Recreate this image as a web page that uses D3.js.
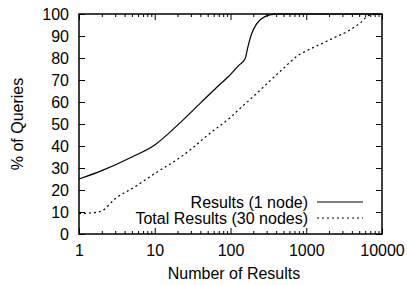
<!DOCTYPE html>
<html>
<head>
<meta charset="utf-8">
<script src="https://cdn.jsdelivr.net/npm/d3@7"></script>
<style>
  body { margin: 0; background: #fff; }
  text { font-family: "Liberation Sans", Arial, sans-serif; font-size: 16px; fill: #000; }
</style>
</head>
<body>
<svg id="chart" width="407" height="285"></svg>
<script>
// values
const resultsX = [1, 2, 5, 10, 20, 40, 65, 100, 130, 155, 171, 190, 221, 284, 385, 500, 10000];
const resultsY = [25, 28.8, 35, 40.5, 49.5, 59.5, 66.5, 72.5, 76.8, 79.5, 85.5, 91, 95.5, 98.8, 99.9, 100, 100];

const totalX = [1, 1.5, 2, 3, 5.5, 10, 20, 30, 50, 100, 133, 200, 472, 824, 1000, 2265, 3760, 5090, 6900, 10000];
const totalY = [9.3, 9.6, 10.5, 16, 21.5, 27.5, 34, 38.5, 45, 53, 57, 62.5, 74.5, 81.7, 83.2, 89, 92.7, 95.8, 99.5, 100];

const xMajor = [1, 10, 100, 1000, 10000];
const yMajor = [0, 10, 20, 30, 40, 50, 60, 70, 80, 90, 100];
const seriesNames = ["Results (1 node)", "Total Results (30 nodes)"];

const plotL = 79, plotR = 382, plotT = 14, plotB = 234;
const svg = d3.select("#chart");

const x = d3.scaleLog().domain([1, 10000]).range([plotL, plotR]);
const y = d3.scaleLinear().domain([0, 100]).range([plotB, plotT]);

// minor ticks 2..9 in each decade
const xMinor = [];
for (let d = 1; d < 10000; d *= 10) {
  for (let k = 2; k < 10; k++) xMinor.push(d * k);
}

function styleAxis(g) {
  g.select(".domain").remove();
  g.selectAll("line").attr("stroke", "#000").attr("stroke-width", 1);
  g.attr("font-size", null).attr("font-family", null);
}

// bottom
svg.append("g")
  .attr("transform", `translate(0,${plotB})`)
  .call(d3.axisBottom(x).tickValues(xMajor).tickSize(-6).tickPadding(11).tickFormat(d3.format("d")))
  .call(styleAxis);
svg.append("g")
  .attr("transform", `translate(0,${plotB})`)
  .call(d3.axisBottom(x).tickValues(xMinor).tickSize(-3).tickFormat(""))
  .call(styleAxis);
// top mirror
svg.append("g")
  .attr("transform", `translate(0,${plotT})`)
  .call(d3.axisTop(x).tickValues(xMajor).tickSize(-6).tickFormat(""))
  .call(styleAxis);
svg.append("g")
  .attr("transform", `translate(0,${plotT})`)
  .call(d3.axisTop(x).tickValues(xMinor).tickSize(-3).tickFormat(""))
  .call(styleAxis);
// left
svg.append("g")
  .attr("transform", `translate(${plotL},0)`)
  .call(d3.axisLeft(y).tickValues(yMajor).tickSize(-6).tickPadding(10))
  .call(styleAxis);
// right mirror
svg.append("g")
  .attr("transform", `translate(${plotR},0)`)
  .call(d3.axisRight(y).tickValues(yMajor).tickSize(-6).tickFormat(""))
  .call(styleAxis);

// frame
svg.append("rect")
  .attr("x", plotL).attr("y", plotT)
  .attr("width", plotR - plotL).attr("height", plotB - plotT)
  .attr("fill", "none").attr("stroke", "#000").attr("stroke-width", 1.5);

const line = d3.line()
  .x(d => x(d[0]))
  .y(d => y(d[1]))
  .curve(d3.curveMonotoneX);

svg.append("path")
  .datum(resultsX.map((v, i) => [v, resultsY[i]]))
  .attr("d", line)
  .attr("fill", "none").attr("stroke", "#000").attr("stroke-width", 1.2);

svg.append("path")
  .datum(totalX.map((v, i) => [v, totalY[i]]))
  .attr("d", line)
  .attr("fill", "none").attr("stroke", "#000").attr("stroke-width", 1.2)
  .attr("stroke-dasharray", "2,3");

// legend
const legend = svg.append("g");
seriesNames.forEach((name, i) => {
  const by = 207.5 + i * 16;
  legend.append("text")
    .attr("x", 308).attr("y", by)
    .attr("text-anchor", "end")
    .text(name);
  legend.append("line")
    .attr("x1", 317).attr("x2", 363)
    .attr("y1", by - 5.5).attr("y2", by - 5.5)
    .attr("stroke", "#000").attr("stroke-width", 1.2)
    .attr("stroke-dasharray", i === 1 ? "2,3" : null);
});

// axis titles
svg.append("text")
  .attr("x", 234).attr("y", 279)
  .attr("text-anchor", "middle")
  .text("Number of Results");

svg.append("text")
  .attr("transform", `translate(23,${(plotT + plotB) / 2}) rotate(-90)`)
  .attr("text-anchor", "middle")
  .text("% of Queries");
</script>
</body>
</html>
